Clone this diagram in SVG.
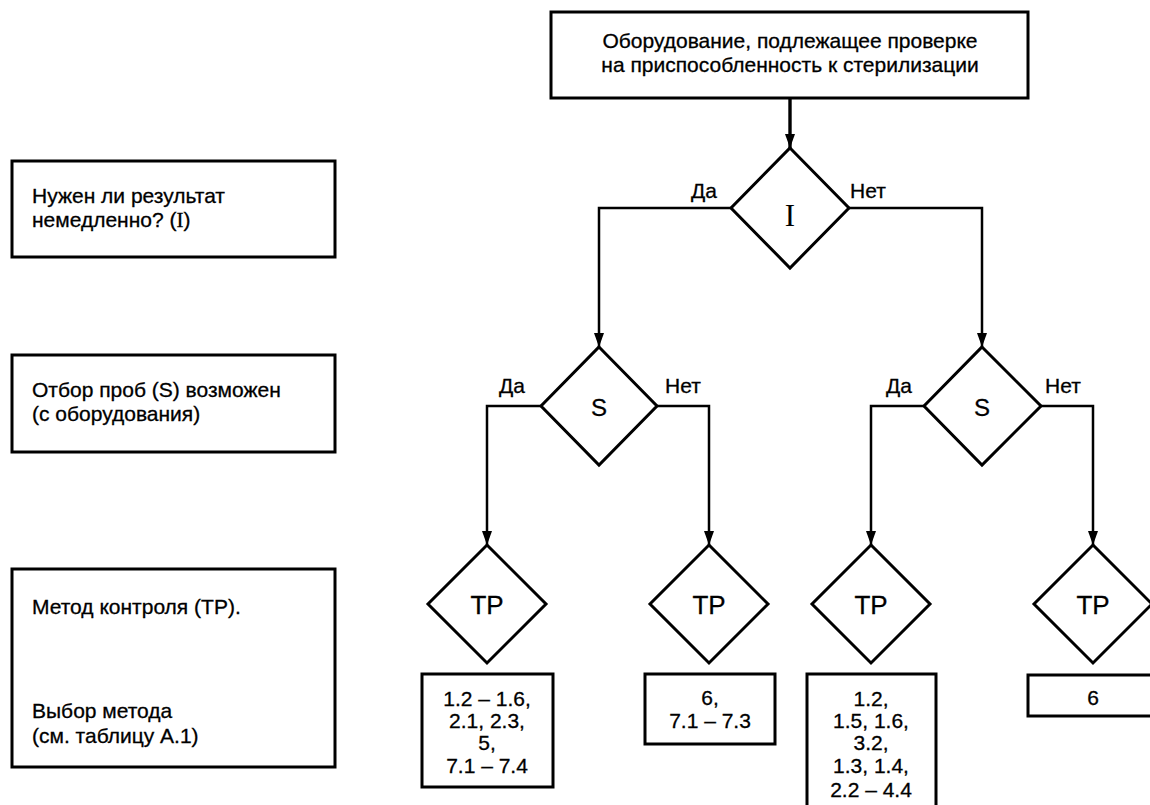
<svg xmlns="http://www.w3.org/2000/svg" width="1150" height="805" viewBox="0 0 1150 805">
<style>
.box{fill:#fff;stroke:#000;stroke-width:3}
.dia{fill:#fff;stroke:#000;stroke-width:3;stroke-linejoin:miter}
.con{fill:none;stroke:#000;stroke-width:2.5}
.t{font-family:"Liberation Sans",Arial,sans-serif;font-size:21px;fill:#000;stroke:#000;stroke-width:0.3}
.c{text-anchor:middle}
.tp{font-family:"Liberation Sans",Arial,sans-serif;font-size:26px;fill:#000;stroke:#000;stroke-width:0.3;text-anchor:middle}
.lbl{font-family:"Liberation Sans",Arial,sans-serif;font-size:21px;fill:#000;stroke:#000;stroke-width:0.3}
.serif{font-family:"Liberation Serif","Times New Roman",serif}
</style>
<defs>
<marker id="arr" viewBox="0 0 14 10" markerWidth="14" markerHeight="10" refX="14" refY="5" orient="auto" markerUnits="userSpaceOnUse">
<path d="M0,0 L14,5 L0,10 z" fill="#000"/>
</marker>
</defs>
<g id="connectors">
<path class="con" d="M790,98 V148" style="stroke-width:3.4" marker-end="url(#arr)"/>
<path class="con" d="M731,208 H599 V347" marker-end="url(#arr)"/>
<path class="con" d="M849,208 H982 V347" marker-end="url(#arr)"/>
<path class="con" d="M541,406 H487 V545" marker-end="url(#arr)"/>
<path class="con" d="M657,406 H709 V545" marker-end="url(#arr)"/>
<path class="con" d="M924,406 H871 V545" marker-end="url(#arr)"/>
<path class="con" d="M1041,406 H1093 V545" marker-end="url(#arr)"/>
<text class="lbl" x="691" y="198">Да</text>
<text class="lbl" x="850" y="198">Нет</text>
<text class="lbl" x="499" y="393">Да</text>
<text class="lbl" x="665" y="393">Нет</text>
<text class="lbl" x="886" y="393">Да</text>
<text class="lbl" x="1045" y="393">Нет</text>
</g>
<g id="top">
<rect class="box" x="551" y="12" width="477" height="86"/>
<text class="t c" x="790" y="48">Оборудование, подлежащее проверке</text>
<text class="t c" x="790" y="72">на приспособленность к стерилизации</text>
</g>
<g id="legend-i">
<rect class="box" x="12" y="161" width="323" height="96"/>
<text class="t" x="32" y="203">Нужен ли результат</text>
<text class="t" x="32" y="227">немедленно? (<tspan class="serif">I</tspan>)</text>
</g>
<g id="legend-s">
<rect class="box" x="12" y="355" width="323" height="97"/>
<text class="t" x="32" y="397">Отбор проб (S) возможен</text>
<text class="t" x="32" y="421">(с оборудования)</text>
</g>
<g id="legend-tp">
<rect class="box" x="12" y="569" width="323" height="198"/>
<text class="t" x="32" y="614">Метод контроля (ТР).</text>
<text class="t" x="32" y="718">Выбор метода</text>
<text class="t" x="32" y="743">(см. таблицу А.1)</text>
</g>
<g id="d-i">
<polygon class="dia" points="790,148 849,208 790,268 731,208"/>
<text class="serif" x="790" y="226" font-size="31" text-anchor="middle" fill="#000">I</text>
</g>
<g id="d-s1">
<polygon class="dia" points="599,347 657,406 599,465 541,406"/>
<text class="tp" x="599" y="416" style="font-size:24px">S</text>
</g>
<g id="d-s2">
<polygon class="dia" points="982,347 1041,406 982,465 924,406"/>
<text class="tp" x="982" y="416" style="font-size:24px">S</text>
</g>
<g id="d-tp1">
<polygon class="dia" points="487,545 546,604 487,663 428,604"/>
<text class="tp" x="487" y="614">ТР</text>
</g>
<g id="d-tp2">
<polygon class="dia" points="709,545 768,604 709,663 650,604"/>
<text class="tp" x="709" y="614">ТР</text>
</g>
<g id="d-tp3">
<polygon class="dia" points="871,545 930,604 871,663 812,604"/>
<text class="tp" x="871" y="614">ТР</text>
</g>
<g id="d-tp4">
<polygon class="dia" points="1093,545 1152,604 1093,663 1034,604"/>
<text class="tp" x="1093" y="614">ТР</text>
</g>
<g id="r1">
<rect class="box" x="422" y="674" width="131" height="113"/>
<text class="t c" x="487" y="706">1.2 – 1.6,</text>
<text class="t c" x="487" y="728">2.1, 2.3,</text>
<text class="t c" x="487" y="750">5,</text>
<text class="t c" x="487" y="773">7.1 – 7.4</text>
</g>
<g id="r2">
<rect class="box" x="645" y="674" width="130" height="70"/>
<text class="t c" x="710" y="705">6,</text>
<text class="t c" x="710" y="728">7.1 – 7.3</text>
</g>
<g id="r3">
<rect class="box" x="807" y="674" width="129" height="145"/>
<text class="t c" x="871" y="706">1.2,</text>
<text class="t c" x="871" y="728">1.5, 1.6,</text>
<text class="t c" x="871" y="750">3.2,</text>
<text class="t c" x="871" y="773">1.3, 1.4,</text>
<text class="t c" x="871" y="797">2.2 – 4.4</text>
</g>
<g id="r4">
<rect class="box" x="1028" y="675" width="135" height="41"/>
<text class="t c" x="1093" y="705">6</text>
</g>
</svg>
